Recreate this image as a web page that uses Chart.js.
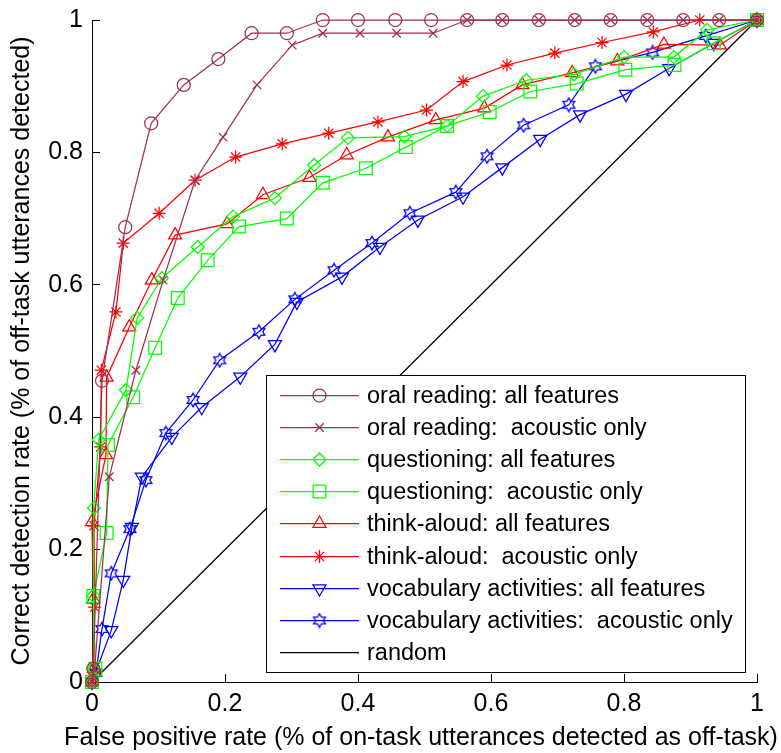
<!DOCTYPE html>
<html>
<head>
<meta charset="utf-8">
<script src="https://cdn.jsdelivr.net/npm/chart.js@4.4.1/dist/chart.umd.min.js"></script>
<style>
  html, body { margin: 0; padding: 0; background: #ffffff; }
  #wrap { width: 781px; height: 753px; position: relative; }
</style>
</head>
<body>
<div id="wrap"><canvas id="roc" width="781" height="753"></canvas></div>
<script>
// ROC curves: false positive rate (x) against correct detection rate (y)
const seriesLabels = [
  'oral reading: all features',
  'oral reading:  acoustic only',
  'questioning: all features',
  'questioning:  acoustic only',
  'think-aloud: all features',
  'think-aloud:  acoustic only',
  'vocabulary activities: all features',
  'vocabulary activities:  acoustic only',
  'random'
];

const xTickLabels = ['0', '0.2', '0.4', '0.6', '0.8', '1'];
const yTickLabels = ['0', '0.2', '0.4', '0.6', '0.8', '1'];
const xTitle = 'False positive rate (% of on-task utterances detected as off-task)';
const yTitle = 'Correct detection rate (% of off-task utterances detected)';

const oralAllFpr = [0, 0.002, 0.015, 0.05, 0.089, 0.138, 0.19, 0.24, 0.293, 0.347, 0.4, 0.456, 0.51, 0.564, 0.617, 0.672, 0.726, 0.78, 0.835, 0.889, 0.943, 1];
const oralAllTpr = [0, 0.02, 0.455, 0.687, 0.844, 0.902, 0.941, 0.98, 0.98, 1, 1, 1, 1, 1, 1, 1, 1, 1, 1, 1, 1, 1];

const oralAcFpr = [0, 0.004, 0.026, 0.066, 0.107, 0.155, 0.197, 0.248, 0.301, 0.347, 0.403, 0.458, 0.513, 0.564, 0.617, 0.672, 0.726, 0.78, 0.835, 0.889, 0.943, 1];
const oralAcTpr = [0, 0.02, 0.31, 0.471, 0.607, 0.758, 0.823, 0.902, 0.962, 0.98, 0.98, 0.98, 0.98, 1, 1, 1, 1, 1, 1, 1, 1, 1];

const questAllFpr = [0, 0.002, 0.002, 0.003, 0.01, 0.051, 0.068, 0.105, 0.159, 0.212, 0.275, 0.334, 0.385, 0.47, 0.534, 0.588, 0.653, 0.725, 0.8, 0.875, 0.925, 1];
const questAllTpr = [0, 0.02, 0.13, 0.263, 0.366, 0.441, 0.55, 0.61, 0.657, 0.703, 0.731, 0.781, 0.822, 0.824, 0.84, 0.885, 0.909, 0.918, 0.944, 0.944, 0.985, 1];

const questAcFpr = [0, 0.005, 0.002, 0.022, 0.024, 0.062, 0.095, 0.129, 0.174, 0.221, 0.293, 0.347, 0.412, 0.472, 0.534, 0.598, 0.659, 0.729, 0.802, 0.876, 0.935, 1];
const questAcTpr = [0, 0.02, 0.13, 0.225, 0.358, 0.43, 0.505, 0.58, 0.637, 0.688, 0.7, 0.754, 0.776, 0.808, 0.84, 0.861, 0.892, 0.904, 0.925, 0.932, 0.965, 1];

const thinkAllFpr = [0, 0.003, 0.002, 0.0, 0.021, 0.022, 0.056, 0.09, 0.125, 0.203, 0.257, 0.327, 0.383, 0.445, 0.517, 0.59, 0.647, 0.722, 0.79, 0.86, 0.944, 1];
const thinkAllTpr = [0, 0.02, 0.125, 0.242, 0.343, 0.46, 0.536, 0.607, 0.675, 0.692, 0.736, 0.762, 0.796, 0.823, 0.849, 0.867, 0.902, 0.92, 0.938, 0.963, 0.962, 1];

const thinkAcFpr = [0, 0.004, 0.003, 0.013, 0.014, 0.036, 0.047, 0.101, 0.155, 0.216, 0.286, 0.356, 0.43, 0.503, 0.558, 0.624, 0.696, 0.767, 0.844, 0.914, 1];
const thinkAcTpr = [0, 0.113, 0.236, 0.355, 0.471, 0.559, 0.663, 0.708, 0.758, 0.793, 0.813, 0.829, 0.846, 0.864, 0.907, 0.932, 0.95, 0.966, 0.982, 1, 1];

const vocabAllFpr = [0, 0.029, 0.047, 0.06, 0.075, 0.12, 0.165, 0.223, 0.275, 0.308, 0.376, 0.433, 0.49, 0.558, 0.617, 0.674, 0.734, 0.803, 0.868, 0.935, 1];
const vocabAllTpr = [0, 0.078, 0.154, 0.234, 0.31, 0.37, 0.415, 0.461, 0.51, 0.574, 0.612, 0.657, 0.698, 0.733, 0.777, 0.82, 0.857, 0.888, 0.927, 0.965, 1];

const vocabAcFpr = [0, 0.006, 0.015, 0.029, 0.057, 0.081, 0.111, 0.152, 0.192, 0.251, 0.305, 0.364, 0.421, 0.478, 0.547, 0.594, 0.649, 0.717, 0.757, 0.843, 0.923, 1];
const vocabAcTpr = [0, 0.014, 0.08, 0.164, 0.231, 0.305, 0.376, 0.426, 0.486, 0.529, 0.578, 0.622, 0.663, 0.708, 0.74, 0.794, 0.841, 0.872, 0.93, 0.951, 0.976, 1];

const randomFpr = [0, 1];
const randomTpr = [0, 1];

// ---- styling ----
const FONT = "'Liberation Sans', Arial, sans-serif";
const ORAL = '#a0304f';
const GREEN = '#00ff00';
const RED = '#ff0000';
const BLUE = '#0000ff';
const LINE_W = 1.25;

// six-pointed star marker (outline), drawn on a small canvas
function makeHexagram(color) {
  const c = document.createElement('canvas');
  c.width = 16; c.height = 16;
  const g = c.getContext('2d');
  g.strokeStyle = color;
  g.lineWidth = 1.3;
  const cx = 8, cy = 8, ro = 6.8, ri = 3.9;
  g.beginPath();
  for (let k = 0; k < 12; k++) {
    const r = k % 2 === 0 ? ro : ri;
    const a = -Math.PI / 2 + k * Math.PI / 6;
    const px = cx + r * Math.cos(a), py = cy + r * Math.sin(a);
    if (k === 0) g.moveTo(px, py); else g.lineTo(px, py);
  }
  g.closePath();
  g.stroke();
  return c;
}
const hexagram = makeHexagram(BLUE);

function pts(xs, ys) {
  return xs.map((x, i) => ({ x: x, y: ys[i] }));
}

function series(label, xs, ys, color, style, radius, rotation) {
  return {
    label: label,
    data: pts(xs, ys),
    showLine: true,
    borderColor: color,
    backgroundColor: color,
    borderWidth: LINE_W,
    pointStyle: style,
    pointRadius: radius,
    pointRotation: rotation || 0,
    pointBorderColor: color,
    pointBackgroundColor: 'rgba(0,0,0,0)',
    pointBorderWidth: LINE_W,
    pointHoverRadius: radius,
    clip: false,
    tension: 0
  };
}

const datasets = [
  series(seriesLabels[0], oralAllFpr, oralAllTpr, ORAL, 'circle', 6.5),
  series(seriesLabels[1], oralAcFpr, oralAcTpr, ORAL, 'crossRot', 6),
  series(seriesLabels[2], questAllFpr, questAllTpr, GREEN, 'rectRot', 6.5),
  series(seriesLabels[3], questAcFpr, questAcTpr, GREEN, 'rect', 9),
  series(seriesLabels[4], thinkAllFpr, thinkAllTpr, RED, 'triangle', 7.5),
  series(seriesLabels[5], thinkAcFpr, thinkAcTpr, RED, 'star', 6.5),
  series(seriesLabels[6], vocabAllFpr, vocabAllTpr, BLUE, 'triangle', 7.5, 180),
  series(seriesLabels[7], vocabAcFpr, vocabAcTpr, BLUE, hexagram, 8),
  series(seriesLabels[8], randomFpr, randomTpr, '#000000', 'circle', 0)
];

// boxed legend in the lower right of the plot, plus the x-axis title
const boxLegend = {
  id: 'boxLegend',
  afterDraw(chart) {
    const ctx = chart.ctx;
    const bx = 266, by = 375, bw = 479, bh = 297;
    ctx.save();
    ctx.fillStyle = '#ffffff';
    ctx.fillRect(bx, by, bw, bh);
    ctx.strokeStyle = '#000000';
    ctx.lineWidth = 1;
    ctx.strokeRect(bx + 0.5, by + 0.5, bw, bh);
    const rowY0 = 395, rowH = 32.1;
    chart.data.datasets.forEach((ds, i) => {
      const y = Math.round(rowY0 + i * rowH) + 0.5;
      ctx.strokeStyle = ds.borderColor;
      ctx.lineWidth = LINE_W;
      ctx.beginPath();
      ctx.moveTo(280, y);
      ctx.lineTo(359, y);
      ctx.stroke();
      if (ds.pointRadius > 0) {
        ctx.fillStyle = 'rgba(0,0,0,0)';
        ctx.strokeStyle = ds.borderColor;
        ctx.lineWidth = LINE_W;
        Chart.helpers.drawPoint(ctx, {
          pointStyle: ds.pointStyle,
          radius: ds.pointRadius,
          rotation: ds.pointRotation,
          borderWidth: LINE_W
        }, 319.5, y);
      }
      ctx.fillStyle = '#000000';
      ctx.font = '23.5px ' + FONT;
      ctx.textAlign = 'left';
      ctx.textBaseline = 'middle';
      ctx.fillText(ds.label, 367, y + 1);
    });
    // x-axis title
    ctx.fillStyle = '#000000';
    ctx.font = '25px ' + FONT;
    ctx.textAlign = 'center';
    ctx.textBaseline = 'middle';
    ctx.fillText(xTitle, 421, 738);
    ctx.restore();
  }
};

const chart = new Chart(document.getElementById('roc'), {
  type: 'scatter',
  data: { datasets: datasets },
  options: {
    responsive: false,
    animation: false,
    devicePixelRatio: 1,
    layout: { padding: { left: 0, top: 10, right: 24, bottom: 0 } },
    plugins: {
      legend: { display: false },
      tooltip: { enabled: false },
      title: { display: false }
    },
    scales: {
      x: {
        type: 'linear',
        min: 0, max: 1,
        afterFit(scale) { scale.height = 71; },
        afterBuildTicks(scale) {
          scale.ticks = xTickLabels.map(t => ({ value: parseFloat(t) }));
        },
        grid: { drawOnChartArea: false, drawTicks: true, tickLength: -8, color: '#000000', lineWidth: 1 },
        border: { display: true, color: '#000000', width: 1 },
        ticks: {
          color: '#000000',
          font: { family: FONT, size: 25 },
          padding: 15,
          maxRotation: 0,
          callback: (v, i) => xTickLabels[i]
        }
      },
      y: {
        type: 'linear',
        min: 0, max: 1,
        afterFit(scale) {
          scale.width = 92;
          // keep the plot top at a fixed distance from the canvas edge
          scale.paddingTop = 20;
          scale.paddingBottom = 0;
        },
        afterBuildTicks(scale) {
          scale.ticks = yTickLabels.map(t => ({ value: parseFloat(t) }));
        },
        grid: { drawOnChartArea: false, drawTicks: true, tickLength: -8, color: '#000000', lineWidth: 1 },
        border: { display: true, color: '#000000', width: 1 },
        ticks: {
          color: '#000000',
          font: { family: FONT, size: 25 },
          padding: 17,
          callback: (v, i) => yTickLabels[i]
        },
        title: {
          display: true,
          text: yTitle,
          color: '#000000',
          font: { family: FONT, size: 25 },
          padding: { top: 7, bottom: 0 }
        }
      }
    }
  },
  plugins: [boxLegend]
});
</script>
</body>
</html>
